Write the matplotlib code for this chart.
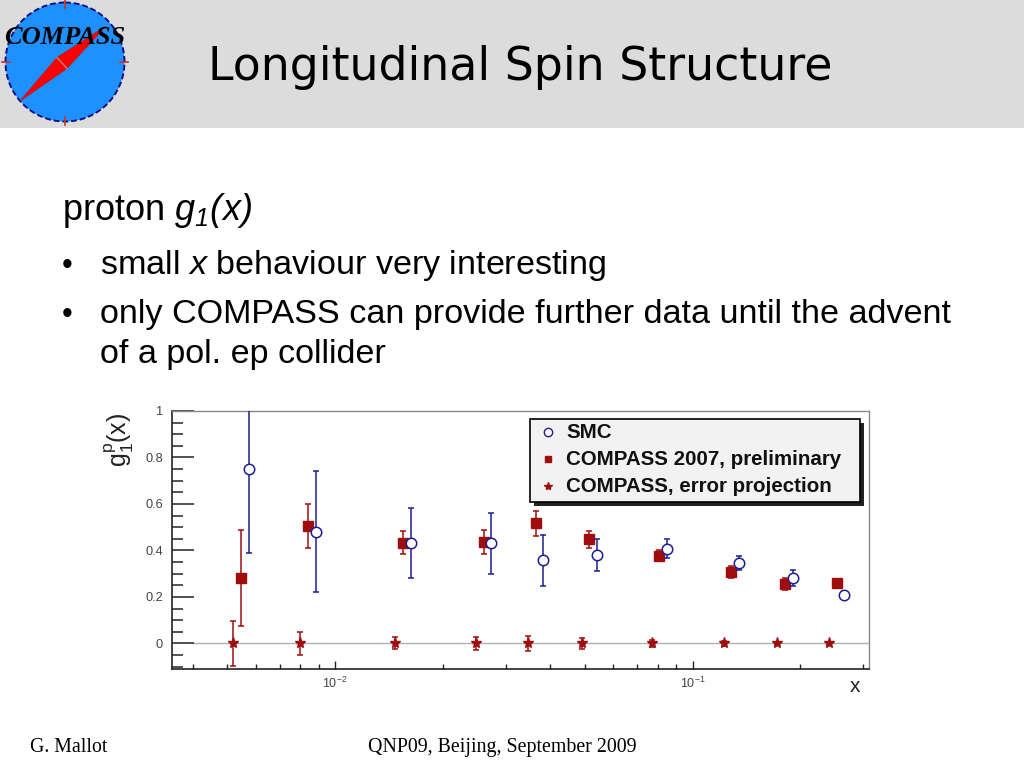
import numpy as np
import matplotlib
matplotlib.use("Agg")
import matplotlib.pyplot as plt
from matplotlib.patches import Rectangle, Circle, Polygon
from matplotlib.lines import Line2D
from matplotlib.ticker import MultipleLocator, FuncFormatter, LogLocator

plt.rcParams['mathtext.fontset'] = 'custom'
plt.rcParams['mathtext.rm'] = 'Liberation Sans'
plt.rcParams['mathtext.it'] = 'Liberation Sans:italic'
plt.rcParams['mathtext.sf'] = 'Liberation Sans:italic'
plt.rcParams['mathtext.bf'] = 'Liberation Sans:bold'
plt.rcParams['font.family'] = ['Liberation Sans', 'DejaVu Sans']

# ---------------- data ----------------
smc_x = [0.00575, 0.00885, 0.0163, 0.0273, 0.0382, 0.054, 0.0845, 0.1346, 0.1905, 0.2655]
smc_y = [0.749, 0.48, 0.431, 0.43, 0.358, 0.38, 0.408, 0.348, 0.281, 0.21]
smc_err = [0.36, 0.26, 0.15, 0.13, 0.11, 0.068, 0.04, 0.03, 0.033, 0.015]

c07_x = [0.00546, 0.00842, 0.01546, 0.026, 0.0364, 0.0513, 0.0807, 0.128, 0.181, 0.253]
c07_y = [0.282, 0.504, 0.433, 0.437, 0.516, 0.448, 0.378, 0.308, 0.256, 0.259]
c07_err = [0.205, 0.095, 0.05, 0.053, 0.052, 0.037, 0.025, 0.025, 0.025, 0.005]

proj_x = [0.0052, 0.00798, 0.01472, 0.0247, 0.0347, 0.0489, 0.0767, 0.122, 0.172, 0.240]
proj_y = [0, 0, 0, 0, 0, 0, 0, 0, 0, 0]
proj_err = [0.095, 0.05, 0.026, 0.027, 0.033, 0.025, 0.015, 0.01, 0.008, 0.005]

legend_labels = ["SMC", "COMPASS 2007, preliminary", "COMPASS, error projection"]

title = "Longitudinal Spin Structure"
heading = r"proton $\mathsf{g_1(x)}$"
bullets = [r"small $\mathit{x}$ behaviour very interesting",
           "only COMPASS can provide further data until the advent",
           "of a pol. ep collider"]
footer_left = "G. Mallot"
footer_mid = "QNP09, Beijing, September 2009"

W, H = 1024, 768
fig = plt.figure(figsize=(W / 100, H / 100), dpi=100)
fig.patch.set_facecolor('white')

def fx(x):
    return x / W

def fy(y):
    return 1 - y / H

# header band
fig.patches.append(Rectangle((0, fy(128)), 1, 128 / H, transform=fig.transFigure,
                             facecolor='#dcdcdc', edgecolor='none', zorder=-5))

# logo
axl = fig.add_axes([0, fy(128), 130 / W, 128 / H])
axl.set_zorder(2)
axl.set_xlim(0, 130)
axl.set_ylim(128, 0)
axl.axis('off')
axl.add_patch(Circle((65, 62), 59.5, facecolor='#1e90ff', edgecolor='#101080',
                     lw=1.4, ls=(0, (3, 1.5))))
for (a, b, c, d) in [(65, 0, 65, 8), (65, 117, 65, 125), (2, 62, 10, 62), (120, 62, 128, 62)]:
    axl.plot([a, c], [b, d], color='#cc3322', lw=1.2)
axl.add_patch(Polygon([(20, 101), (57, 57.5), (106, 26), (67, 68.5)], closed=True,
                      facecolor='#ff0000', edgecolor='#aa2222', lw=0.6))
axl.plot([57, 67], [57.5, 68.5], color='#c08080', lw=1)
axl.text(65, 38, "COMPASS", family='Liberation Serif', style='italic', weight='bold',
         fontsize=19, ha='center', va='center', color='black')

# title
fig.text(fx(520), fy(80), title, family='DejaVu Sans', fontsize=33, ha='center',
         va='baseline', color='black')

# body text
fig.text(fx(62), fy(220), heading, fontsize=26, ha='left', va='baseline')
fig.text(fx(62), fy(274), u"\u2022", fontsize=22, ha='left', va='baseline')
fig.text(fx(100), fy(274), bullets[0], fontsize=24.6, ha='left', va='baseline')
fig.text(fx(62), fy(323), u"\u2022", fontsize=22, ha='left', va='baseline')
fig.text(fx(100), fy(323), bullets[1], fontsize=24.6, ha='left', va='baseline')
fig.text(fx(100), fy(363), bullets[2], fontsize=24.6, ha='left', va='baseline')

# footer
fig.text(fx(30), fy(752), footer_left, family='Liberation Serif', fontsize=14.3,
         ha='left', va='baseline')
fig.text(fx(368), fy(752), footer_mid, family='Liberation Serif', fontsize=14.3,
         ha='left', va='baseline')

# ---------------- chart ----------------
ax = fig.add_axes([fx(172), fy(669), (869 - 172) / W, (669 - 411) / H])
ax.set_xscale('log')
ax.set_xlim(0.0035, 0.311)
ax.set_ylim(-0.11, 1.0)

ax.plot([0.004, 0.311], [0, 0], color='#b0b0b0', lw=1, zorder=1)

red = '#a00d0d'
blue = '#1c1c96'

ax.errorbar(proj_x, proj_y, yerr=proj_err, fmt='*', color=red, ms=8, mec=red,
            ecolor=red, elinewidth=1.1, capsize=2.2, capthick=1.1, zorder=3)
ax.errorbar(c07_x, c07_y, yerr=c07_err, fmt='s', color=red, ms=6.5, mec=red,
            ecolor=red, elinewidth=1.1, capsize=2.2, capthick=1.1, zorder=3)
ax.errorbar(smc_x, smc_y, yerr=smc_err, fmt='o', mfc='white', mec=blue, ms=7.5,
            mew=1.1, ecolor=blue, elinewidth=1.1, capsize=2.2, capthick=1.1, zorder=4)

for s in ['left', 'bottom']:
    ax.spines[s].set_color('#222222')
    ax.spines[s].set_linewidth(1.2)
for s in ['top', 'right']:
    ax.spines[s].set_color('#888888')
    ax.spines[s].set_linewidth(1.0)

ax.yaxis.set_major_locator(MultipleLocator(0.2))
ax.yaxis.set_minor_locator(MultipleLocator(0.05))
ax.yaxis.set_major_formatter(FuncFormatter(lambda v, p: "%g" % round(v, 3)))
ax.xaxis.set_major_locator(LogLocator(base=10))
ax.xaxis.set_minor_locator(LogLocator(base=10, subs=np.arange(2, 10)))
ax.xaxis.set_minor_formatter(FuncFormatter(lambda v, p: ""))

ax.tick_params(axis='y', which='major', direction='in', length=16, width=1.1,
               color='#222222', labelsize=9.2, labelcolor='#444444', pad=6.5,
               left=True, right=False)
ax.tick_params(axis='y', which='minor', direction='in', length=8, width=1.1,
               color='#222222', left=True, right=False)
ax.tick_params(axis='x', which='major', direction='in', length=6, width=1.0,
               color='#222222', labelsize=9, labelcolor='#444444', pad=5,
               bottom=True, top=False)
ax.tick_params(axis='x', which='minor', direction='in', length=3.5, width=1.0,
               color='#222222', bottom=True, top=False)

fig.text(fx(855), fy(692), "x", fontsize=15, ha='center', va='baseline', color='#222222')
fig.text(fx(119), fy(440), r"$\mathregular{g_1^p(x)}$", fontsize=18, rotation=90,
         ha='center', va='center', color='#222222')

# legend (manual box)
lx0, ly0, lx1, ly1 = 530, 419, 860, 502
fig.patches.append(Rectangle((fx(lx0 + 4), fy(ly1 + 4)), (lx1 - lx0) / W, (ly1 - ly0) / H,
                             transform=fig.transFigure, facecolor='#222222',
                             edgecolor='none', zorder=5))
fig.patches.append(Rectangle((fx(lx0), fy(ly1)), (lx1 - lx0) / W, (ly1 - ly0) / H,
                             transform=fig.transFigure, facecolor='#f2f2f2',
                             edgecolor='black', lw=1.2, zorder=6))
rows = [432, 459, 486]
styles = [dict(marker='o', mfc='white', mec=blue, ms=6, mew=1.0),
          dict(marker='s', mfc=red, mec=red, ms=5),
          dict(marker='*', mfc=red, mec=red, ms=6)]
for ry, st, lab in zip(rows, styles, legend_labels):
    fig.add_artist(Line2D([fx(548)], [fy(ry)], transform=fig.transFigure, ls='none',
                          zorder=7, **st))
    fig.text(fx(566), fy(ry + 6), lab, fontsize=14.8, weight='bold', ha='left',
             va='baseline', color='#111111', zorder=7)

fig.savefig("out.png", dpi=100)
